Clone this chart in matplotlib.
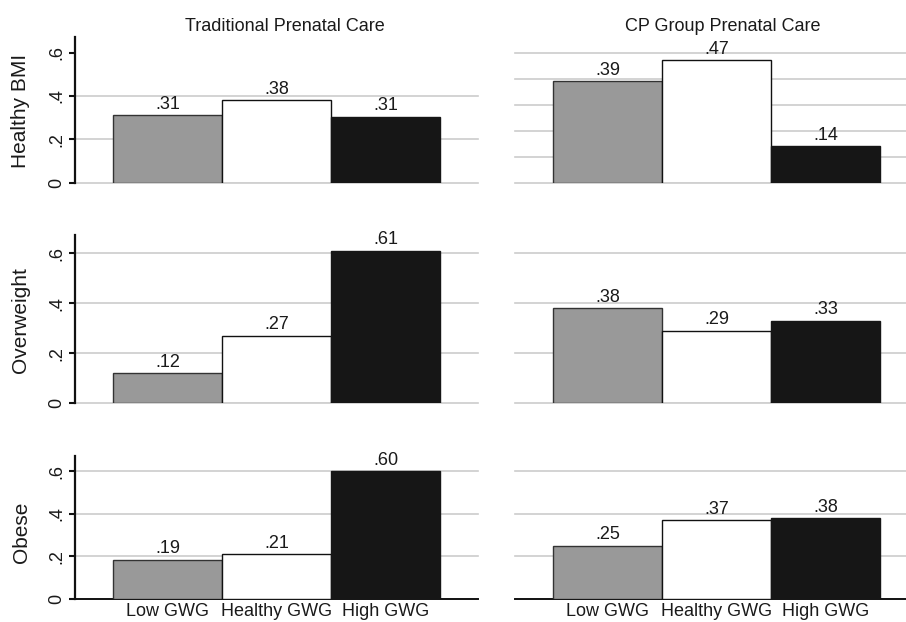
import matplotlib
matplotlib.use("Agg")
import matplotlib.pyplot as plt

plt.rcParams['font.family'] = ['Liberation Sans', 'DejaVu Sans']

categories = ["Low GWG", "Healthy GWG", "High GWG"]
rows = ["Healthy BMI", "Overweight", "Obese"]
columns = ["Traditional Prenatal Care", "CP Group Prenatal Care"]

trad_healthy = [0.31, 0.38, 0.305]
trad_overweight = [0.12, 0.27, 0.61]
trad_obese = [0.185, 0.21, 0.60]
cp_healthy = [0.39, 0.47, 0.14]
cp_overweight = [0.38, 0.29, 0.33]
cp_obese = [0.25, 0.37, 0.38]

label_trad_healthy = [".31", ".38", ".31"]
label_trad_overweight = [".12", ".27", ".61"]
label_trad_obese = [".19", ".21", ".60"]
label_cp_healthy = [".39", ".47", ".14"]
label_cp_overweight = [".38", ".29", ".33"]
label_cp_obese = [".25", ".37", ".38"]

values = [[trad_healthy, cp_healthy], [trad_overweight, cp_overweight], [trad_obese, cp_obese]]
labels = [[label_trad_healthy, label_cp_healthy], [label_trad_overweight, label_cp_overweight],
          [label_trad_obese, label_cp_obese]]

bar_colors = ["#999999", "#ffffff", "#161616"]
edge_colors = ["#333333", "#111111", "#161616"]

W, H = 906, 622
fig = plt.figure(figsize=(W / 100, H / 100), dpi=100)

row_px = [(37, 182.7), (235, 403.3), (456, 599)]
col_px = [(75, 477.7), (515, 918)]
row_label_y = [111, 320.5, 532]

def add_ax(x0, x1, y0, y1):
    return fig.add_axes([x0 / W, 1 - y1 / H, (x1 - x0) / W, (y1 - y0) / H])

xpos = [1, 2, 3]
for r in range(3):
    for c in range(2):
        y0, y1 = row_px[r]
        x0, x1 = col_px[c]
        ax = add_ax(x0, x1, y0, y1)
        ax.set_axisbelow(True)
        vals = values[r][c]
        for i in range(3):
            ax.bar(xpos[i], vals[i], width=1.0, color=bar_colors[i],
                   edgecolor=edge_colors[i], linewidth=1.0, zorder=3)
            ax.annotate(labels[r][c][i], (xpos[i], vals[i]), xytext=(0, 4.6),
                        textcoords='offset points', ha='center', va='baseline',
                        fontsize=13, color='#1a1a1a', zorder=4)
        ax.set_xlim(0.152, 3.846)
        if r == 0 and c == 1:
            ax.set_ylim(0, 0.56)
            ax.set_yticks([0, 0.1, 0.2, 0.3, 0.4, 0.5])
        else:
            ax.set_ylim(0, 0.672)
            ax.set_yticks([0, 0.2, 0.4, 0.6])
        ax.grid(axis='y', color='#cccccc', linewidth=1.2)
        for gl in ax.yaxis.get_gridlines():
            gl.set_clip_on(False)
        if r == 0 and c == 0:
            ax.yaxis.get_gridlines()[3].set_visible(False)
        if r == 2:
            ax.yaxis.get_gridlines()[0].set_visible(False)
        for s in ['top', 'right']:
            ax.spines[s].set_visible(False)
        if r == 2:
            ax.spines['bottom'].set_visible(True)
            ax.spines['bottom'].set_linewidth(1.4)
            ax.spines['bottom'].set_color('#111111')
            ax.set_xticks(xpos)
            ax.set_xticklabels(categories, fontsize=13, color='#1a1a1a')
            ax.tick_params(axis='x', length=0, pad=3)
        else:
            ax.spines['bottom'].set_visible(False)
            ax.set_xticks([])
        if c == 0:
            ax.spines['left'].set_linewidth(1.6)
            ax.spines['left'].set_color('#111111')
            ax.set_yticklabels(["0", ".2", ".4", ".6"], rotation=90,
                               va='center', ha='center', fontsize=13, color='#1a1a1a')
            ax.tick_params(axis='y', length=4.3, width=1.5, color='#111111', pad=9)
        else:
            ax.spines['left'].set_visible(False)
            ax.tick_params(axis='y', length=0, labelleft=False)
        ax.patch.set_alpha(0)
    fig.text(21 / W, 1 - row_label_y[r] / H, rows[r], rotation=90,
             ha='center', va='center', fontsize=15, color='#1a1a1a')

fig.text(284.5 / W, 1 - 31 / H, columns[0], ha='center', va='baseline',
         fontsize=13, color='#1a1a1a')
fig.text(723 / W, 1 - 31 / H, columns[1], ha='center', va='baseline',
         fontsize=13, color='#1a1a1a')

fig.savefig("out.png", dpi=100, facecolor='white')
